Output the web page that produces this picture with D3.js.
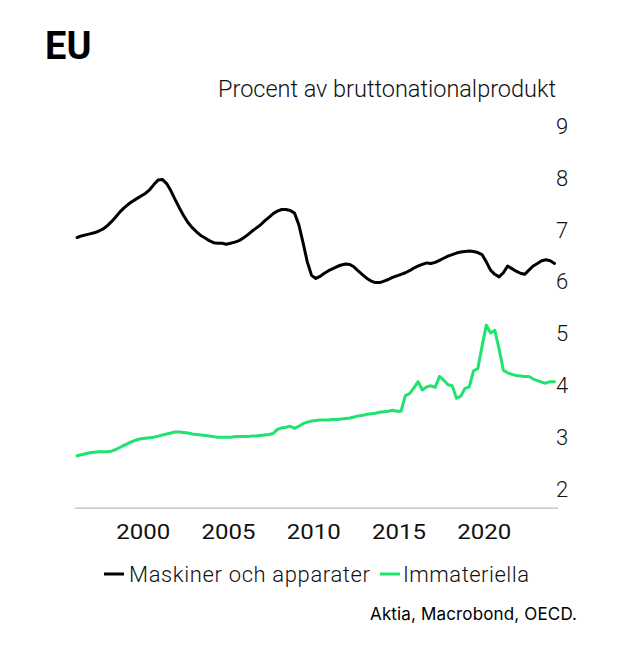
<!DOCTYPE html>
<html><head><meta charset="utf-8">
<script src="https://cdn.jsdelivr.net/npm/d3@7/dist/d3.min.js"></script>
<style>
html,body{margin:0;padding:0;background:#fff;}
svg text{font-family:Roboto,"Open Sans",sans-serif;}
</style></head>
<body><svg id="chart" width="631" height="654"></svg>
<script>
const title = "EU";
const subtitle = "Procent av bruttonationalprodukt";
const source = "Aktia, Macrobond, OECD.";
const seriesNames = ["Maskiner och apparater", "Immateriella"];
const seriesColors = ["#000000", "#1ee36c"];
const yTicks = [2,3,4,5,6,7,8,9];
const xTicks = [2000,2005,2010,2015,2020];

// quarterly dates, 1996 Q1 .. 2024 Q1
const dates = d3.range(0,113).map(i => 1996.125 + i*0.25);

const maskiner = [
6.85,6.88,6.90,6.92,6.94,6.97,7.01,7.07,7.15,7.24,7.34,7.42,7.49,7.55,7.60,7.65,
7.70,7.77,7.87,7.96,7.97,7.89,7.75,7.58,7.42,7.27,7.14,7.04,6.96,6.89,6.84,6.79,
6.75,6.74,6.74,6.72,6.74,6.76,6.79,6.84,6.90,6.97,7.03,7.09,7.17,7.24,7.31,7.36,
7.39,7.39,7.37,7.32,7.10,6.75,6.38,6.12,6.06,6.10,6.16,6.21,6.25,6.29,6.32,6.34,
6.33,6.28,6.20,6.13,6.06,6.01,5.98,5.98,6.01,6.04,6.08,6.11,6.14,6.17,6.21,6.26,
6.30,6.33,6.36,6.35,6.37,6.41,6.45,6.49,6.52,6.55,6.57,6.58,6.59,6.58,6.56,6.52,
6.38,6.22,6.14,6.09,6.17,6.30,6.25,6.20,6.16,6.14,6.22,6.30,6.35,6.40,6.42,6.40,
6.35];

const immateriella = [
2.64,2.66,2.68,2.70,2.71,2.72,2.72,2.72,2.73,2.76,2.80,2.84,2.88,2.92,2.95,2.97,
2.98,2.99,3.00,3.02,3.04,3.06,3.08,3.10,3.10,3.09,3.08,3.06,3.05,3.04,3.03,3.02,
3.01,3.00,3.00,3.00,3.00,3.01,3.01,3.01,3.01,3.02,3.02,3.03,3.04,3.05,3.07,3.15,
3.18,3.19,3.21,3.17,3.21,3.26,3.29,3.31,3.32,3.33,3.33,3.33,3.34,3.34,3.35,3.36,
3.37,3.39,3.41,3.42,3.44,3.45,3.46,3.48,3.49,3.50,3.52,3.50,3.50,3.80,3.84,3.95,
4.07,3.91,3.97,3.99,3.96,4.17,4.10,4.01,3.99,3.75,3.79,3.94,3.97,4.28,4.32,4.75,
5.16,5.01,5.06,4.70,4.29,4.24,4.21,4.19,4.18,4.17,4.17,4.12,4.09,4.06,4.04,4.07,
4.07];

const svg = d3.select("#chart");
const x = d3.scaleLinear().domain([1996, 2024.33]).range([75, 558]);
const y = d3.scaleLinear().domain([2, 9]).range([489, 126]);
const yBase = 1.63;

// baseline
svg.append("line").attr("x1", x(1996)).attr("x2", x(2024.33))
  .attr("y1", y(yBase)).attr("y2", y(yBase))
  .attr("stroke", "#bdbdbd").attr("stroke-width", 1.2);

// y tick labels
svg.append("g").selectAll("text").data(yTicks).join("text")
  .attr("x", 556).attr("y", d => y(d)).attr("dy", "0.36em")
  .attr("font-size", 22).attr("font-weight", 300).attr("fill", "#111")
  .text(d => d);

// x tick labels
svg.append("g").selectAll("text").data(xTicks).join("text")
  .attr("x", d => x(d)).attr("y", 539).attr("text-anchor", "middle")
  .attr("font-size", 20).attr("font-weight", 400).attr("fill", "#111")
  .attr("textLength", 54).attr("lengthAdjust", "spacingAndGlyphs")
  .text(d => d);

const line = d3.line().x((d,i) => x(dates[i])).y(d => y(d));
[immateriella, maskiner].forEach((vals, k) => {
  const idx = k === 0 ? 1 : 0;
  svg.append("path").datum(vals).attr("d", line)
    .attr("fill", "none").attr("stroke", seriesColors[idx])
    .attr("stroke-width", 3).attr("stroke-linejoin", "round").attr("stroke-linecap", "round");
});

// title & subtitle
svg.append("text").attr("x", 45).attr("y", 59).attr("font-size", 38)
  .attr("font-weight", 700).attr("fill", "#000").text(title);
svg.append("text").attr("x", 556).attr("y", 97).attr("text-anchor", "end")
  .attr("font-size", 23.5).attr("font-weight", 300).attr("fill", "#111")
  .attr("textLength", 338).attr("lengthAdjust", "spacing").text(subtitle);

// legend
const lg = svg.append("g");
const legendItems = [{x: 104, tx: 129, w: 241}, {x: 380, tx: 403, w: 126}];
legendItems.forEach((it, i) => {
  lg.append("line").attr("x1", it.x).attr("x2", it.x + 20).attr("y1", 574).attr("y2", 574)
    .attr("stroke", seriesColors[i]).attr("stroke-width", 3);
  lg.append("text").attr("x", it.tx).attr("y", 582).attr("font-size", 22)
    .attr("font-weight", 300).attr("fill", "#111")
    .attr("textLength", it.w).attr("lengthAdjust", "spacing").text(seriesNames[i]);
});

// source
svg.append("text").attr("x", 577).attr("y", 620).attr("text-anchor", "end")
  .style("font-family", "Inter, Roboto, sans-serif")
  .attr("font-size", 17).attr("font-weight", 400).attr("fill", "#000")
  .attr("textLength", 207).attr("lengthAdjust", "spacing").text(source);
</script>
</body></html>
